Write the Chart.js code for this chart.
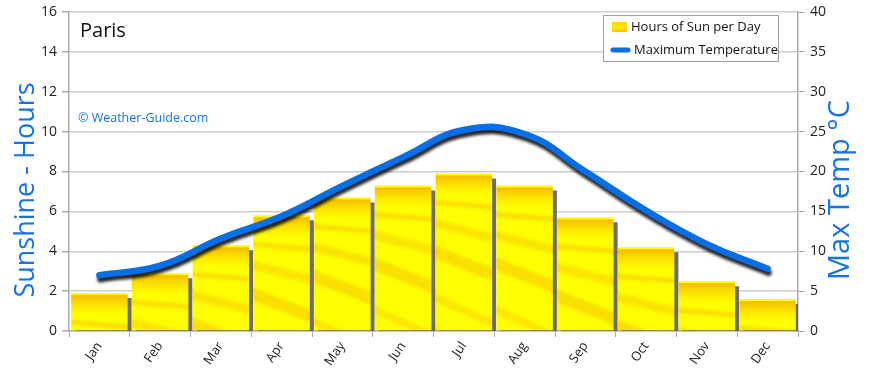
<!DOCTYPE html>
<html>
<head>
<meta charset="utf-8">
<script src="https://cdn.jsdelivr.net/npm/chart.js@4.4.1/dist/chart.umd.min.js"></script>
<style>
  html, body { margin: 0; background: #fff; }
  #wrap { width: 870px; height: 371px; position: relative; }
</style>
</head>
<body>
<div id="wrap"><canvas id="weatherChart"></canvas></div>
<script>
const months = ["Jan", "Feb", "Mar", "Apr", "May", "Jun", "Jul", "Aug", "Sep", "Oct", "Nov", "Dec"];
const sunHours = [1.9, 2.9, 4.3, 5.8, 6.7, 7.3, 7.9, 7.3, 5.7, 4.2, 2.5, 1.6];
const maxTemp = [7, 8.2, 11.6, 14.4, 18.2, 21.8, 25.2, 24.7, 20, 15.1, 10.9, 7.8];
const hoursAxis = [0, 16, 2];
const tempAxis = [0, 40, 5];

const BLUE = "#1473e6";
const FONT = '"Open Sans", sans-serif';

// streaks for the bar texture: [leftY, rightY, thickness, alpha]
const streaks = [
  [26, 32, 5, 0.35], [44, 62, 9, 0.28], [70, 98, 13, 0.32], [118, 150, 8, 0.25],
  [150, 196, 16, 0.3], [205, 240, 10, 0.25], [236, 286, 18, 0.28], [296, 326, 12, 0.25],
];

const makeTexture = () => {
  const c = document.createElement("canvas");
  c.width = 64;
  c.height = 340;
  const g = c.getContext("2d");
  g.fillStyle = "#ffff00";
  g.fillRect(0, 0, 64, 340);
  g.filter = "blur(1.5px)";
  streaks.forEach(([y0, y1, w, a]) => {
    g.fillStyle = `rgba(240,160,0,${a})`;
    g.beginPath();
    g.moveTo(-4, y0);
    g.lineTo(68, y1);
    g.lineTo(68, y1 + w);
    g.lineTo(-4, y0 + w);
    g.closePath();
    g.fill();
  });
  g.filter = "none";
  const top = g.createLinearGradient(0, 0, 0, 22);
  top.addColorStop(0, "rgba(255,230,0,0.4)");
  top.addColorStop(0.1, "rgba(245,170,0,0.8)");
  top.addColorStop(1, "rgba(255,210,0,0)");
  g.fillStyle = top;
  g.fillRect(0, 2, 64, 20);
  return c;
};
const texture = makeTexture();

const barFill = (ctx) => {
  const chart = ctx.chart;
  if (ctx.type !== "data" || !chart.chartArea) return "#ffee00";
  const x = chart.scales.x.getPixelForValue(ctx.dataIndex);
  const y = chart.scales.yHours.getPixelForValue(ctx.raw);
  const p = chart.ctx.createPattern(texture, "repeat");
  p.setTransform(new DOMMatrix([1, 0, 0, 1, x - 30, y]));
  return p;
};

const shadowPlugin = {
  id: "shadows",
  beforeDatasetDraw(chart, args) {
    const ctx = chart.ctx;
    ctx.save();
    if (chart.data.datasets[args.index].type === "bar") {
      ctx.shadowColor = "rgba(100,100,100,0.95)";
      ctx.shadowOffsetX = 4;
      ctx.shadowOffsetY = 5;
      ctx.shadowBlur = 1;
    } else {
      ctx.shadowColor = "rgba(0,0,0,0.85)";
      ctx.shadowOffsetX = 1;
      ctx.shadowOffsetY = 4;
      ctx.shadowBlur = 3;
    }
  },
  afterDatasetDraw(chart) {
    chart.ctx.restore();
  },
};

const decorPlugin = {
  id: "decor",
  afterDraw(chart) {
    const ctx = chart.ctx;
    const area = chart.chartArea;
    ctx.save();

    // titles, both read bottom to top
    ctx.fillStyle = BLUE;
    ctx.textAlign = "center";
    ctx.textBaseline = "middle";
    ctx.font = `27px ${FONT}`;
    ctx.translate(26, 190);
    ctx.rotate(-Math.PI / 2);
    ctx.fillText("Sunshine - Hours", 0, 0);
    ctx.setTransform(1, 0, 0, 1, 0, 0);
    ctx.font = `29px ${FONT}`;
    ctx.translate(area.right + 43, 190);
    ctx.rotate(-Math.PI / 2);
    ctx.fillText("Max Temp °C", 0, 0);
    ctx.setTransform(1, 0, 0, 1, 0, 0);

    // labels inside the plot
    ctx.textAlign = "left";
    ctx.fillStyle = "#111";
    ctx.font = `20px ${FONT}`;
    ctx.fillText("Paris", area.left + 11, 31);
    ctx.fillStyle = BLUE;
    ctx.font = `12.5px ${FONT}`;
    ctx.fillText("© Weather-Guide.com", area.left + 9, 118);

    // legend
    const lx = area.right - 195;
    const ly = 15;
    ctx.fillStyle = "#fff";
    ctx.fillRect(lx, ly, 175, 46);
    ctx.strokeStyle = "#a0a0a0";
    ctx.lineWidth = 1;
    ctx.strokeRect(lx + 0.5, ly + 0.5, 175, 46);
    const sw = ctx.createLinearGradient(0, ly + 7, 0, ly + 17);
    sw.addColorStop(0, "#ffd000");
    sw.addColorStop(0.5, "#ffee00");
    sw.addColorStop(1, "#f8c000");
    ctx.fillStyle = sw;
    ctx.fillRect(lx + 9, ly + 7, 15, 10);
    ctx.strokeStyle = "#0a6fe6";
    ctx.lineWidth = 5;
    ctx.lineCap = "round";
    ctx.beginPath();
    ctx.moveTo(lx + 10, ly + 35);
    ctx.lineTo(lx + 25, ly + 35);
    ctx.stroke();
    ctx.fillStyle = "#111";
    ctx.font = `13px ${FONT}`;
    ctx.fillText("Hours of Sun per Day", lx + 28, ly + 12);
    ctx.fillText("Maximum Temperature", lx + 31, ly + 35);
    ctx.restore();
  },
};

const tickFont = { family: FONT, size: 14, lineHeight: 1 };

new Chart(document.getElementById("weatherChart"), {
  data: {
    labels: months,
    datasets: [
      {
        type: "line",
        label: "Maximum Temperature",
        data: maxTemp,
        yAxisID: "yTemp",
        borderColor: "#0a6fe6",
        borderWidth: 6.5,
        borderCapStyle: "round",
        pointRadius: 0,
        tension: 0.45,
        order: 0,
      },
      {
        type: "bar",
        label: "Hours of Sun per Day",
        data: sunHours,
        yAxisID: "yHours",
        backgroundColor: barFill,
        borderWidth: 0,
        barPercentage: 0.93,
        categoryPercentage: 1,
        order: 1,
      },
    ],
  },
  plugins: [shadowPlugin, decorPlugin],
  options: {
    responsive: true,
    maintainAspectRatio: false,
    animation: false,
    layout: { padding: { top: 10, left: 0, right: 0, bottom: 0 } },
    plugins: {
      legend: { display: false },
      tooltip: { enabled: false },
    },
    scales: {
      x: {
        afterFit: (scale) => { scale.height = 40; },
        grid: { drawOnChartArea: false, offset: true, tickLength: 6, color: "#aaa" },
        border: { color: "#aaa", width: 1.5 },
        ticks: { color: "#222", font: { family: FONT, size: 13 }, minRotation: 55, maxRotation: 55, padding: 2 },
      },
      yHours: {
        position: "left",
        min: hoursAxis[0],
        max: hoursAxis[1],
        afterFit: (scale) => { scale.width = 69; },
        grid: { color: "#cdcdcd", lineWidth: 1.5, tickLength: 7, tickColor: "#aaa" },
        border: { color: "#aaa", width: 1.5 },
        ticks: { stepSize: hoursAxis[2], color: "#222", font: tickFont, padding: 5 },
      },
      yTemp: {
        position: "right",
        min: tempAxis[0],
        max: tempAxis[1],
        afterFit: (scale) => { scale.width = 72; },
        grid: { drawOnChartArea: false, tickLength: 7, color: "#aaa" },
        border: { color: "#aaa", width: 1.5 },
        ticks: { stepSize: tempAxis[2], color: "#222", font: tickFont, padding: 5 },
      },
    },
  },
});
</script>
</body>
</html>
